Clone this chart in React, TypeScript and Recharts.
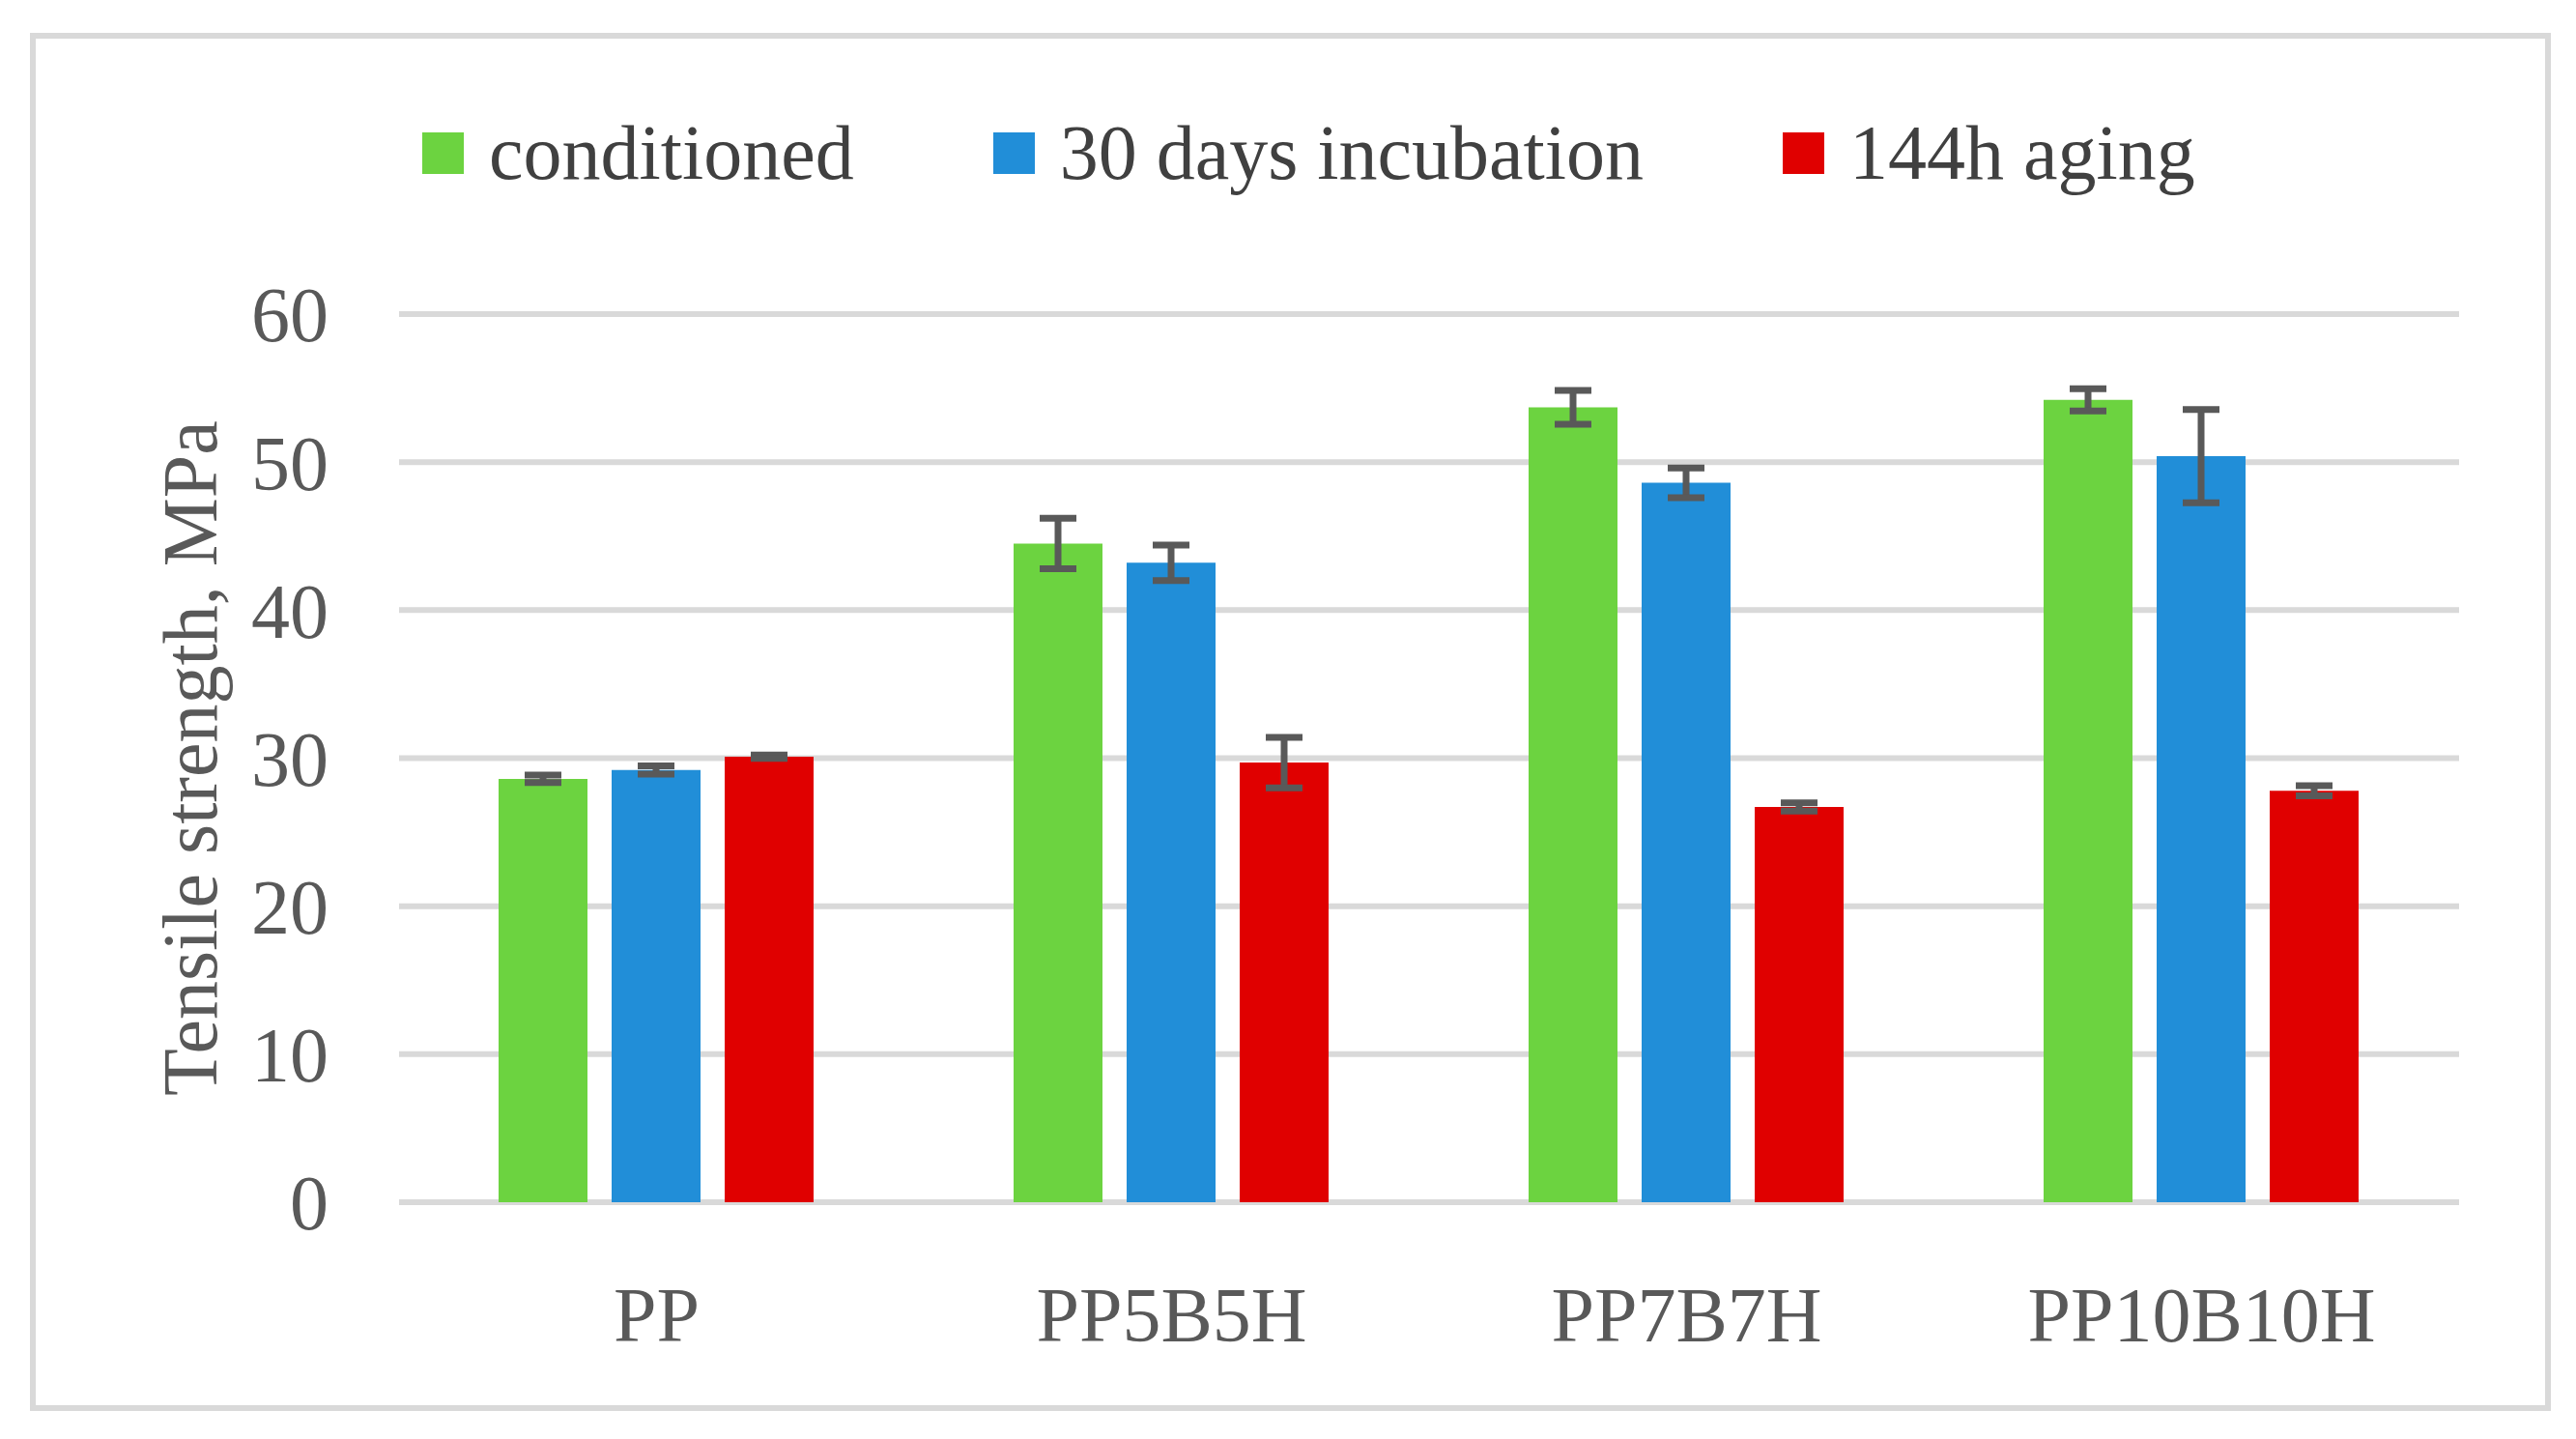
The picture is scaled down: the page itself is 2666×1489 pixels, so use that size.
import React from 'react';
import { BarChart, Bar, XAxis, YAxis, CartesianGrid, Legend, ErrorBar } from 'recharts';

const categories = ['PP', 'PP5B5H', 'PP7B7H', 'PP10B10H'];
const conditioned = [28.6, 44.5, 53.7, 54.2];
const conditionedErr = [0.25, 1.7, 1.15, 0.75];
const incubation = [29.2, 43.2, 48.6, 50.4];
const incubationErr = [0.27, 1.2, 1.0, 3.15];
const aging = [30.1, 29.7, 26.7, 27.8];
const agingErr = [0.12, 1.7, 0.28, 0.34];
const yTicks = [0, 10, 20, 30, 40, 50, 60];

const seriesNames = ['conditioned', '30 days incubation', '144h aging'];
const seriesColors = ['#6CD340', '#218ED8', '#E00000'];

const FONT = '"Liberation Serif", "Times New Roman", serif';

const data = categories.map((name, i) => ({
  name,
  conditioned: conditioned[i],
  conditionedErr: conditionedErr[i],
  incubation: incubation[i],
  incubationErr: incubationErr[i],
  aging: aging[i],
  agingErr: agingErr[i],
}));

// legend in series order (recharts sorts the payload by name otherwise)
const LegendContent = () => (
  <div style={{ display: 'flex', alignItems: 'center', paddingLeft: 437, fontFamily: FONT, fontSize: 80, color: '#404040' }}>
    {seriesNames.map((name, i) => (
      <div key={name} style={{ display: 'flex', alignItems: 'center', marginRight: 144 }}>
        <span style={{ display: 'inline-block', width: 43, height: 43, background: seriesColors[i], marginRight: 26 }} />
        <span style={{ lineHeight: 1 }}>{name}</span>
      </div>
    ))}
  </div>
);

export default function App() {
  return (
    <div style={{ position: 'absolute', left: 0, top: 0, width: 2666, height: 1489, background: '#fff' }}>
      <div
        style={{
          position: 'absolute',
          left: 31,
          top: 34,
          width: 2609,
          height: 1426,
          border: '6px solid #d9d9d9',
          boxSizing: 'border-box',
        }}
      />
      <div style={{ position: 'absolute', left: 0, top: 0 }}>
        <BarChart
          width={2666}
          height={1489}
          data={data}
          margin={{ top: 325, right: 121, left: 100, bottom: 0 }}
          barCategoryGap={103}
          barGap={25}
        >
          <CartesianGrid vertical={false} stroke="#d9d9d9" strokeWidth={6} />
          <XAxis
            dataKey="name"
            axisLine={false}
            tickLine={false}
            tickSize={0}
            tickMargin={87}
            height={245}
            tick={{ fill: '#595959', fontSize: 80, fontFamily: FONT }}
          />
          <YAxis
            width={313}
            domain={[0, 60]}
            ticks={yTicks}
            axisLine={false}
            tickLine={false}
            tickSize={0}
            tickMargin={73}
            tick={{ fill: '#595959', fontSize: 80, fontFamily: FONT }}
            label={{
              value: 'Tensile strength, MPa',
              angle: -90,
              position: 'insideLeft',
              offset: 96,
              style: { textAnchor: 'middle', fill: '#595959', fontSize: 80, fontFamily: FONT },
            }}
          />
          <Legend
            verticalAlign="middle"
            align="center"
            content={<LegendContent />}
            wrapperStyle={{ top: 118, left: 0, width: 2666 }}
          />
          <Bar dataKey="conditioned" name={seriesNames[0]} fill={seriesColors[0]} isAnimationActive={false}>
            <ErrorBar dataKey="conditionedErr" width={19} stroke="#595959" strokeWidth={7} direction="y" isAnimationActive={false} />
          </Bar>
          <Bar dataKey="incubation" name={seriesNames[1]} fill={seriesColors[1]} isAnimationActive={false}>
            <ErrorBar dataKey="incubationErr" width={19} stroke="#595959" strokeWidth={7} direction="y" isAnimationActive={false} />
          </Bar>
          <Bar dataKey="aging" name={seriesNames[2]} fill={seriesColors[2]} isAnimationActive={false}>
            <ErrorBar dataKey="agingErr" width={19} stroke="#595959" strokeWidth={7} direction="y" isAnimationActive={false} />
          </Bar>
        </BarChart>
      </div>
    </div>
  );
}
